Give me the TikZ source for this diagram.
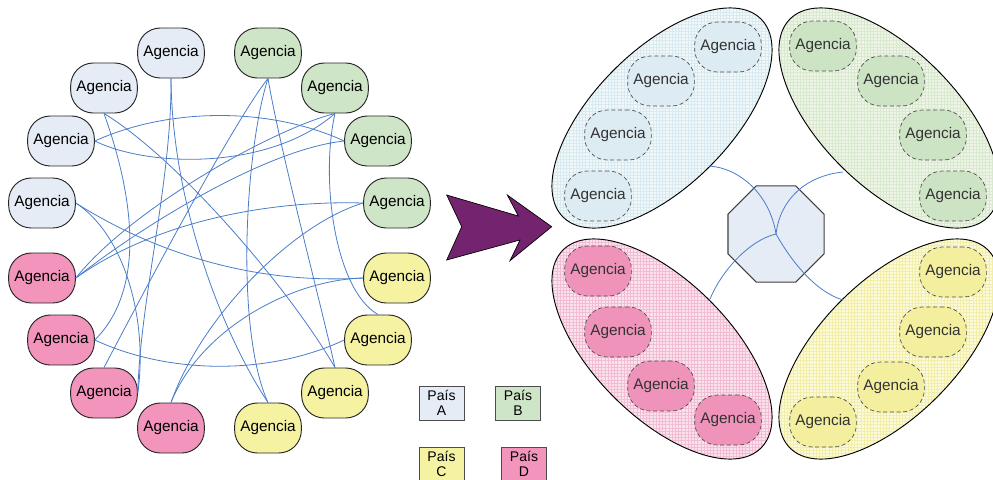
\documentclass[tikz,border=0pt]{standalone}
\usepackage{fontspec}
\setmainfont{Liberation Sans}
\usetikzlibrary{shapes.geometric,patterns.meta}
\definecolor{ca}{HTML}{E6ECF5}
\definecolor{cb}{HTML}{CFE5C7}
\definecolor{cc}{HTML}{F5F2A2}
\definecolor{cd}{HTML}{F294BC}
\definecolor{ra}{HTML}{DDEBF2}
\definecolor{rb}{HTML}{CDE4C4}
\definecolor{rc}{HTML}{F3EF9E}
\definecolor{rd}{HTML}{EF93BB}
\definecolor{ea}{HTML}{F1F8FA}
\definecolor{eb}{HTML}{EEF5E7}
\definecolor{ec}{HTML}{FBFADC}
\definecolor{ed}{HTML}{FAE3EE}
\definecolor{ga}{HTML}{D8EAF0}
\definecolor{gb}{HTML}{D9E9CF}
\definecolor{gc}{HTML}{F2EEA8}
\definecolor{gd}{HTML}{F3BCD3}
\definecolor{linkc}{HTML}{4A7CC9}
\definecolor{arrowc}{HTML}{74236F}
\definecolor{hubc}{HTML}{E5ECF5}
\begin{document}
\begin{tikzpicture}[x=0.75pt,y=-0.75pt,
  lnode/.style={draw=black!85, line width=0.7pt, rounded corners=17pt,
    minimum width=50pt, minimum height=37.5pt, inner sep=0pt,
    font=\fontsize{11.5}{13}\selectfont},
  rnode/.style={draw=black!70, line width=0.5pt, densely dashed, rounded corners=17pt,
    minimum width=50pt, minimum height=37.5pt, inner sep=0pt,
    font=\fontsize{11.5}{13}\selectfont, text=black!80},
  grp/.style={draw=black, line width=0.7pt},
  grid/.style={pattern={Hatch[distance=2.4pt, angle=0, line width=0.35pt]}, pattern color=#1},
  link/.style={draw=linkc, line width=0.6pt},
  legendbox/.style={draw=black!70, line width=0.7pt, minimum width=33.75pt,
    minimum height=25.5pt, inner sep=0pt, align=center,
    font=\fontsize{10.5}{11}\selectfont},
]
\useasboundingbox (0,0) rectangle (993,479);

% ---------------- left: agencies in a circle
\node[lnode, fill=ca] (a1) at (171,53) {Agencia};
\node[lnode, fill=ca] (a2) at (104,88) {Agencia};
\node[lnode, fill=ca] (a3) at (61,141) {Agencia};
\node[lnode, fill=ca] (a4) at (42,203) {Agencia};
\node[lnode, fill=cb] (b1) at (268,53) {Agencia};
\node[lnode, fill=cb] (b2) at (335,88) {Agencia};
\node[lnode, fill=cb] (b3) at (378,141) {Agencia};
\node[lnode, fill=cb] (b4) at (397,203) {Agencia};
\node[lnode, fill=cd] (d1) at (42,278) {Agencia};
\node[lnode, fill=cd] (d2) at (61,340) {Agencia};
\node[lnode, fill=cd] (d3) at (104,393) {Agencia};
\node[lnode, fill=cd] (d4) at (171,428) {Agencia};
\node[lnode, fill=cc] (c1) at (268,428) {Agencia};
\node[lnode, fill=cc] (c2) at (335,393) {Agencia};
\node[lnode, fill=cc] (c3) at (378,340) {Agencia};
\node[lnode, fill=cc] (c4) at (397,278) {Agencia};

\draw[link] (a3.east) .. controls (170,107) and (270,107) .. (b3.west);
\draw[link] (a3.east) .. controls (150,168) and (270,170) .. (b2.south);
\draw[link] (a4.east) .. controls (125,235) and (148,320) .. (d3.east);
\draw[link] (b1.south) .. controls (235,120) and (150,280) .. (d3.north);
\draw[link] (a1.south) .. controls (172,200) and (220,330) .. (c1.north);
\draw[link] (a1.south) .. controls (172,180) and (140,300) .. (d3.east);
\draw[link] (a2.south) .. controls (135,200) and (145,290) .. (d2.east);
\draw[link] (a2.south) .. controls (180,160) and (290,290) .. (c2.north);
\draw[link] (b1.south) .. controls (245,150) and (235,330) .. (c1.north);
\draw[link] (b1.south) .. controls (280,150) and (320,300) .. (c2.north);
\draw[link] (b2.south) .. controls (320,180) and (335,290) .. (c3.north);
\draw[link] (b2.south) .. controls (270,130) and (130,210) .. (d1.east);
\draw[link] (b3.west) .. controls (260,150) and (130,235) .. (d1.east);
\draw[link] (b4.west) .. controls (260,200) and (150,225) .. (d1.east);
\draw[link] (b4.west) .. controls (290,225) and (200,320) .. (d4.north);
\draw[link] (c4.west) .. controls (290,280) and (200,330) .. (d4.north);
\draw[link] (c4.west) .. controls (250,285) and (150,250) .. (a4.east);
\draw[link] (c3.west) .. controls (270,375) and (170,375) .. (d2.east);

% ---------------- legend
\node[legendbox, fill=ca] (la) at (441.5,403) {País\\A};
\node[legendbox, fill=cb] (lb) at (518,403) {País\\B};
\node[legendbox, fill=cc] (lc) at (441.5,464) {País\\C};
\node[legendbox, fill=cd] (ld) at (524,464) {País\\D};

% ---------------- big arrow
\draw[fill=arrowc, draw=black, line width=0.5pt]
  (446.7,195) -- (518.3,216) -- (507.3,195) -- (551.7,226.7) -- (510,260.7)
  -- (520,240) -- (446.7,260) -- (461.7,226.7) -- cycle;

% ---------------- right: groups
\draw[grp, preaction={fill=ea}, grid=ga, shift={(662,118)}, rotate=45] (0,0) ellipse [x radius=105pt, y radius=51pt];
\draw[grp, preaction={fill=eb}, grid=gb, shift={(889,118)}, rotate=-45] (0,0) ellipse [x radius=105pt, y radius=51pt];
\draw[grp, preaction={fill=ed}, grid=gd, shift={(662,349)}, rotate=-45] (0,0) ellipse [x radius=105pt, y radius=51pt];
\draw[grp, preaction={fill=ec}, grid=gc, shift={(889,349)}, rotate=45] (0,0) ellipse [x radius=105pt, y radius=51pt];

\node[rnode, fill=ra] (ra1) at (728,47) {Agencia};
\node[rnode, fill=ra] (ra2) at (661,81) {Agencia};
\node[rnode, fill=ra] (ra3) at (618,135) {Agencia};
\node[rnode, fill=ra] (ra4) at (598,196) {Agencia};
\node[rnode, fill=rb] (rb1) at (823,46) {Agencia};
\node[rnode, fill=rb] (rb2) at (891,81) {Agencia};
\node[rnode, fill=rb] (rb3) at (933,135) {Agencia};
\node[rnode, fill=rb] (rb4) at (953,196) {Agencia};
\node[rnode, fill=rd] (rd1) at (598,271) {Agencia};
\node[rnode, fill=rd] (rd2) at (618,332) {Agencia};
\node[rnode, fill=rd] (rd3) at (661,386) {Agencia};
\node[rnode, fill=rd] (rd4) at (728,420) {Agencia};
\node[rnode, fill=rc] (rc1) at (953,272) {Agencia};
\node[rnode, fill=rc] (rc2) at (933,332) {Agencia};
\node[rnode, fill=rc] (rc3) at (891,387) {Agencia};
\node[rnode, fill=rc] (rc4) at (823,422) {Agencia};

\node[regular polygon, regular polygon sides=8, minimum size=78pt, inner sep=0pt,
  draw=black!75, line width=0.8pt, fill=hubc] (hub) at (776,234) {};

\coordinate (pa) at (709,166);
\coordinate (pb) at (843,172);
\coordinate (pd) at (710,299);
\coordinate (pc) at (843,300);
\draw[link] (pa) .. controls (740,168) and (770,195) .. (hub.center);
\draw[link] (pb) .. controls (805,176) and (780,200) .. (hub.center);
\draw[link] (pd) .. controls (722,270) and (750,240) .. (hub.center);
\draw[link] (pc) .. controls (810,290) and (785,250) .. (hub.center);
\end{tikzpicture}
\end{document}
